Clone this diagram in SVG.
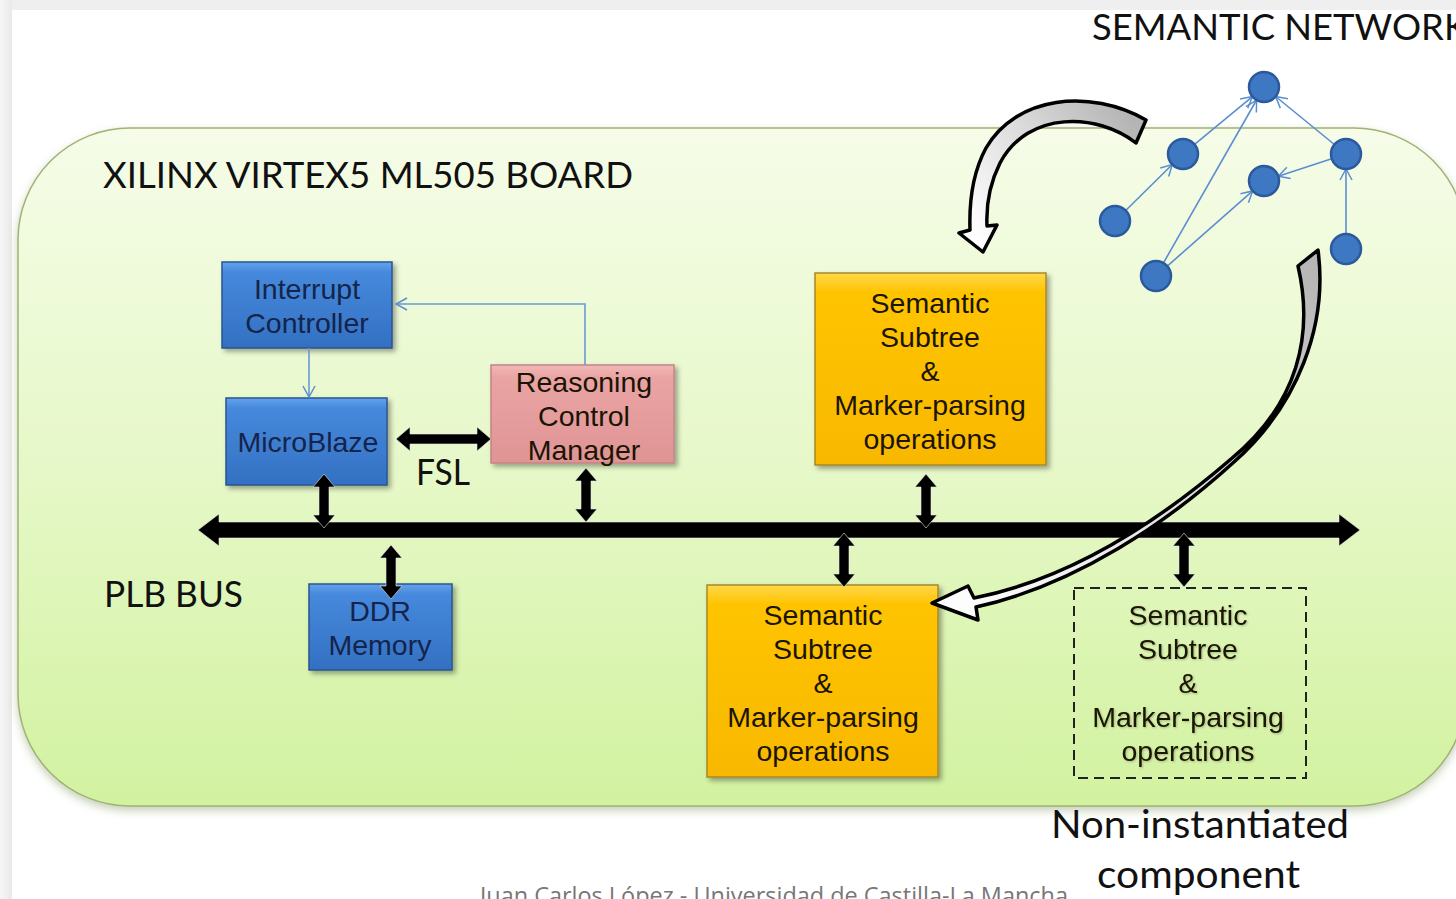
<svg xmlns="http://www.w3.org/2000/svg" width="1456" height="899" viewBox="0 0 1456 899">
  <defs>
    <linearGradient id="boardFill" x1="0" y1="0" x2="0" y2="1">
      <stop offset="0" stop-color="#f6fce8"/>
      <stop offset="0.5" stop-color="#e6f8c8"/>
      <stop offset="1" stop-color="#d2f2a0"/>
    </linearGradient>
    <linearGradient id="blueFill" x1="0" y1="0" x2="0" y2="1">
      <stop offset="0" stop-color="#64a3ec"/>
      <stop offset="0.12" stop-color="#4689dc"/>
      <stop offset="1" stop-color="#3370c2"/>
    </linearGradient>
    <linearGradient id="pinkFill" x1="0" y1="0" x2="0" y2="1">
      <stop offset="0" stop-color="#f3b8b8"/>
      <stop offset="0.12" stop-color="#eaa4a4"/>
      <stop offset="1" stop-color="#e09494"/>
    </linearGradient>
    <linearGradient id="yellowFill" x1="0" y1="0" x2="0" y2="1">
      <stop offset="0" stop-color="#ffd84a"/>
      <stop offset="0.1" stop-color="#ffc400"/>
      <stop offset="1" stop-color="#f8b800"/>
    </linearGradient>
    <linearGradient id="arcTop" gradientUnits="userSpaceOnUse" x1="1140" y1="130" x2="975" y2="240">
      <stop offset="0" stop-color="#b4b4b4"/>
      <stop offset="0.45" stop-color="#d8d8d8"/>
      <stop offset="1" stop-color="#ffffff"/>
    </linearGradient>
    <linearGradient id="arcLong" gradientUnits="userSpaceOnUse" x1="1310" y1="250" x2="940" y2="605">
      <stop offset="0" stop-color="#b4b4b4"/>
      <stop offset="0.4" stop-color="#d8d8d8"/>
      <stop offset="1" stop-color="#ffffff"/>
    </linearGradient>
    <linearGradient id="edgeLeft" x1="0" y1="0" x2="1" y2="0">
      <stop offset="0" stop-color="#f6f6f6"/>
      <stop offset="1" stop-color="#e9e9e9"/>
    </linearGradient>
    <filter id="shadow" x="-10%" y="-10%" width="130%" height="130%">
      <feDropShadow dx="3" dy="3" stdDeviation="2.5" flood-color="#000" flood-opacity="0.35"/>
    </filter>
    <filter id="boardShadow" x="-5%" y="-5%" width="110%" height="115%">
      <feDropShadow dx="0" dy="4" stdDeviation="4" flood-color="#5a7a30" flood-opacity="0.35"/>
    </filter>
    <filter id="textGlow" x="-5%" y="-20%" width="110%" height="140%">
      <feDropShadow dx="1" dy="1" stdDeviation="1" flood-color="#000" flood-opacity="0.25"/>
    </filter>
    <marker id="openHead" markerUnits="userSpaceOnUse" markerWidth="14" markerHeight="14" viewBox="0 0 14 14" refX="13" refY="7" orient="auto">
      <path d="M2,1 L13,7 L2,13" fill="none" stroke="#5b8ed0" stroke-width="1.5"/>
    </marker>
    <path id="vArrow" d="M0,0 L11,13 L5,13 L5,41 L11,41 L0,54 L-11,41 L-5,41 L-5,13 L-11,13 Z"/>
  </defs>

  <style>
    .head { font-family: Lato, "Open Sans", "Liberation Sans", sans-serif; fill: #111; }
    .box-text { font-family: "Liberation Sans", Arial, sans-serif; font-size: 28.5px; text-anchor: middle; }
    .blue-text { fill: #14244a; }
    .dark-text { fill: #1a1405; }
    .blue-box { fill: url(#blueFill); stroke: #2a5590; stroke-width: 1.5; filter: url(#shadow); }
    .pink-box { fill: url(#pinkFill); stroke: #c48484; stroke-width: 1.5; filter: url(#shadow); }
    .yellow-box { fill: url(#yellowFill); stroke: #a8882a; stroke-width: 1.5; filter: url(#shadow); }
    .dashed-box { fill: none; stroke: #222; stroke-width: 2; stroke-dasharray: 10 6; }
    .bus-arrow { fill: #000; stroke: #e8e8e8; stroke-width: 1; stroke-opacity: 0.6; }
    .blue-link { fill: none; stroke: #6a9ad4; stroke-width: 1.6; marker-end: url(#openHead); }
    .net-link { fill: none; stroke: #5b8ed0; stroke-width: 1.6; marker-end: url(#openHead); }
    .net-node { fill: #3e77c2; stroke: #2b5a9c; stroke-width: 2.5; }
    .arc { stroke: #000; stroke-width: 3.5; stroke-linejoin: round; }
  </style>

  <!-- page background -->
  <rect x="0" y="0" width="1456" height="899" fill="#efefef"/>
  <rect x="0" y="0" width="12" height="899" fill="url(#edgeLeft)"/>
  <rect x="12" y="10" width="1444" height="889" fill="#ffffff"/>

  <!-- board -->
  <g id="board">
    <rect x="18" y="128" width="1448" height="678" rx="112" ry="112" fill="url(#boardFill)" stroke="#a0b274" stroke-width="1.5" filter="url(#boardShadow)"/>
    <text class="head" x="103" y="188" font-size="36" textLength="530" lengthAdjust="spacingAndGlyphs">XILINX VIRTEX5 ML505 BOARD</text>
  </g>

  <g id="title-network">
    <text class="head" x="1092" y="40" font-size="37" textLength="376" lengthAdjust="spacingAndGlyphs">SEMANTIC NETWORK</text>
  </g>

  <g id="plb-label">
    <text class="head" x="104" y="607" font-size="36" textLength="139" lengthAdjust="spacingAndGlyphs">PLB BUS</text>
  </g>

  <g id="fsl-label">
    <text class="head" x="416" y="485" font-size="36" textLength="54" lengthAdjust="spacingAndGlyphs">FSL</text>
  </g>

  <!-- processing blocks -->
  <g id="interrupt-controller">
    <rect class="blue-box" x="222" y="262" width="170" height="86"/>
    <text class="box-text blue-text" x="307" y="299">Interrupt</text>
    <text class="box-text blue-text" x="307" y="333">Controller</text>
  </g>

  <g id="microblaze">
    <rect class="blue-box" x="226" y="398" width="161" height="87"/>
    <text class="box-text blue-text" x="308" y="452">MicroBlaze</text>
  </g>

  <g id="reasoning-control-manager">
    <rect class="pink-box" x="491" y="365" width="183" height="98"/>
    <text class="box-text dark-text" x="584" y="392">Reasoning</text>
    <text class="box-text dark-text" x="584" y="426">Control</text>
    <text class="box-text dark-text" x="584" y="460">Manager</text>
  </g>

  <g id="ddr-memory">
    <rect class="blue-box" x="309" y="584" width="143" height="86"/>
    <text class="box-text blue-text" x="380" y="621">DDR</text>
    <text class="box-text blue-text" x="380" y="655">Memory</text>
  </g>

  <g id="subtree-upper">
    <rect class="yellow-box" x="815" y="273" width="231" height="192"/>
    <text class="box-text dark-text" x="930" y="313">Semantic</text>
    <text class="box-text dark-text" x="930" y="347">Subtree</text>
    <text class="box-text dark-text" x="930" y="381">&amp;</text>
    <text class="box-text dark-text" x="930" y="415">Marker-parsing</text>
    <text class="box-text dark-text" x="930" y="449">operations</text>
  </g>

  <g id="subtree-lower">
    <rect class="yellow-box" x="707" y="585" width="231" height="192"/>
    <text class="box-text dark-text" x="823" y="625">Semantic</text>
    <text class="box-text dark-text" x="823" y="659">Subtree</text>
    <text class="box-text dark-text" x="823" y="693">&amp;</text>
    <text class="box-text dark-text" x="823" y="727">Marker-parsing</text>
    <text class="box-text dark-text" x="823" y="761">operations</text>
  </g>

  <g id="subtree-spare">
    <rect class="dashed-box" x="1074" y="588" width="232" height="190"/>
    <g filter="url(#textGlow)">
      <text class="box-text dark-text" x="1188" y="625">Semantic</text>
      <text class="box-text dark-text" x="1188" y="659">Subtree</text>
      <text class="box-text dark-text" x="1188" y="693">&amp;</text>
      <text class="box-text dark-text" x="1188" y="727">Marker-parsing</text>
      <text class="box-text dark-text" x="1188" y="761">operations</text>
    </g>
  </g>

  <g id="spare-label">
    <text class="head" x="1051" y="838" font-size="38" textLength="298" lengthAdjust="spacingAndGlyphs">Non-instantiated</text>
    <text class="head" x="1097" y="888" font-size="38" textLength="203" lengthAdjust="spacingAndGlyphs">component</text>
  </g>

  <!-- connectors -->
  <g id="connectors">
    <!-- PLB bus -->
    <path class="bus-arrow" d="M198,530 L219,514 L219,522 L1339,522 L1339,514 L1360,530 L1339,546 L1339,538 L219,538 L219,546 Z"/>
    <!-- FSL link -->
    <path class="bus-arrow" d="M396,439 L410,427 L410,434 L477,434 L477,427 L491,439 L477,451 L477,444 L410,444 L410,451 Z"/>
    <!-- bus taps -->
    <use href="#vArrow" class="bus-arrow" transform="translate(324,474)"/>
    <use href="#vArrow" class="bus-arrow" transform="translate(391,545)"/>
    <use href="#vArrow" class="bus-arrow" transform="translate(586,468)"/>
    <use href="#vArrow" class="bus-arrow" transform="translate(926,474)"/>
    <use href="#vArrow" class="bus-arrow" transform="translate(844,533)"/>
    <use href="#vArrow" class="bus-arrow" transform="translate(1184,533)"/>
    <!-- interrupt lines -->
    <path class="blue-link" d="M309,348 L309,397"/>
    <path class="blue-link" d="M585,365 L585,304 L396,304"/>
    <!-- semantic network edges -->
    <path class="net-link" d="M1125.7,210.5 L1172.3,164.5"/>
    <path class="net-link" d="M1194.6,144.4 L1252.4,96.6"/>
    <path class="net-link" d="M1163.4,263 L1256.6,100"/>
    <path class="net-link" d="M1167.3,266.1 L1252.7,190.9"/>
    <path class="net-link" d="M1334.4,144.5 L1275.6,96.5"/>
    <path class="net-link" d="M1331.7,158.7 L1278.3,176.3"/>
    <path class="net-link" d="M1346,234 L1346,169"/>
  </g>

  <!-- semantic network nodes -->
  <g id="net-nodes">
    <circle id="net-a" class="net-node" cx="1264" cy="87" r="15"/>
    <circle id="net-b" class="net-node" cx="1183" cy="154" r="15"/>
    <circle id="net-c" class="net-node" cx="1346" cy="154" r="15"/>
    <circle id="net-d" class="net-node" cx="1264" cy="181" r="15"/>
    <circle id="net-e" class="net-node" cx="1115" cy="221" r="15"/>
    <circle id="net-f" class="net-node" cx="1156" cy="276" r="15"/>
    <circle id="net-g" class="net-node" cx="1346" cy="249" r="15"/>
  </g>

  <!-- mapping arrows between network and subtrees -->
  <g id="mapping-arrows">
    <path class="arc" fill="url(#arcTop)" d="M1146,120 L1136,143 C1098,113 1028,110 1000,163 C990,183 986,205 987,226 L997,225 L983,252 L959,233 L970,230 C969,200 973,172 986,148 C1016,96 1090,88 1146,120 Z"/>
    <path class="arc" fill="url(#arcLong)" d="M1298,266 L1318,250 C1328,325 1298,405 1234,462 C1168,522 1076,585 976,607 L978,620 L932,603 L968,586 L974,598 C1075,578 1165,516 1231,459 C1298,404 1314,335 1298,266 Z"/>
  </g>

  <!-- footer -->
  <g id="footer">
    <text x="480" y="904" font-family="'Open Sans', Lato, sans-serif" font-size="23" fill="#777" textLength="588" lengthAdjust="spacingAndGlyphs">Juan Carlos López - Universidad de Castilla-La Mancha</text>
  </g>
</svg>
